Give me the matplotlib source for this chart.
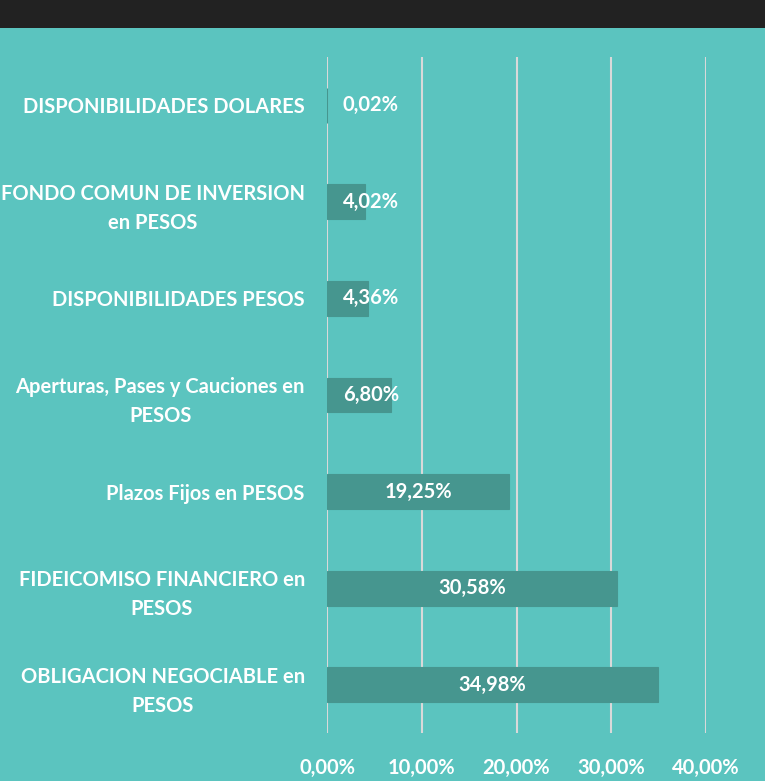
import matplotlib
matplotlib.use("Agg")
import matplotlib.pyplot as plt
from matplotlib.patches import Rectangle

categorias = [
    "DISPONIBILIDADES DOLARES",
    "FONDO COMUN DE INVERSION\nen PESOS",
    "DISPONIBILIDADES PESOS",
    "Aperturas, Pases y Cauciones en\nPESOS",
    "Plazos Fijos en PESOS",
    "FIDEICOMISO FINANCIERO en\nPESOS",
    "OBLIGACION NEGOCIABLE en\nPESOS",
]
valores = [0.02, 4.02, 4.36, 6.80, 19.25, 30.58, 34.98]
etiquetas = ["0,02%", "4,02%", "4,36%", "6,80%", "19,25%", "30,58%", "34,98%"]
ticks = [0, 10, 20, 30, 40]
tick_labels = ["0,00%", "10,00%", "20,00%", "30,00%", "40,00%"]

fondo = "#5BC4BF"
barra = "#46968F"
plt.rcParams['font.family'] = ['Lato', 'DejaVu Sans']

fig = plt.figure(figsize=(7.65, 7.81), dpi=100)
fig.patch.set_facecolor(fondo)
fig.patches.append(Rectangle((0, 1 - 28 / 781), 1, 28 / 781, transform=fig.transFigure,
                             facecolor="#222222", edgecolor="none"))

ax = fig.add_axes([327 / 765, 1 - 733 / 781, (706 - 327) / 765, (733 - 57) / 781])
ax.set_facecolor(fondo)
pos = list(range(len(categorias)))
ax.barh(pos, valores, height=0.36, color=barra, edgecolor=barra, linewidth=0.8, zorder=2)
ax.set_ylim(len(categorias) - 0.5, -0.5)
ax.set_xlim(0, 40)
ax.set_xticks(ticks)
ax.set_xticklabels(tick_labels, color="white", fontsize=14.5, fontweight="bold")
ax.set_yticks(pos)
ax.set_yticklabels(categorias, color="white", fontsize=14.5, fontweight="bold",
                   multialignment="center", linespacing=1.55)
ax.tick_params(length=0, axis="y", pad=16)
ax.tick_params(length=0, axis="x", pad=18)
ax.grid(axis="x", color="#D9D9D9", linewidth=1.5, zorder=0)
for s in ax.spines.values():
    s.set_visible(False)

for p, v, t in zip(pos, valores, etiquetas):
    if v < 10:
        ax.annotate(t, xy=(0, p), xytext=(11.5, 0), textcoords="offset points",
                    ha="left", va="center", color="white", fontsize=14.5, fontweight="bold")
    else:
        ax.text(v / 2, p, t, ha="center", va="center", color="white",
                fontsize=14.5, fontweight="bold")

fig.savefig("out.png", dpi=100, facecolor=fondo)
